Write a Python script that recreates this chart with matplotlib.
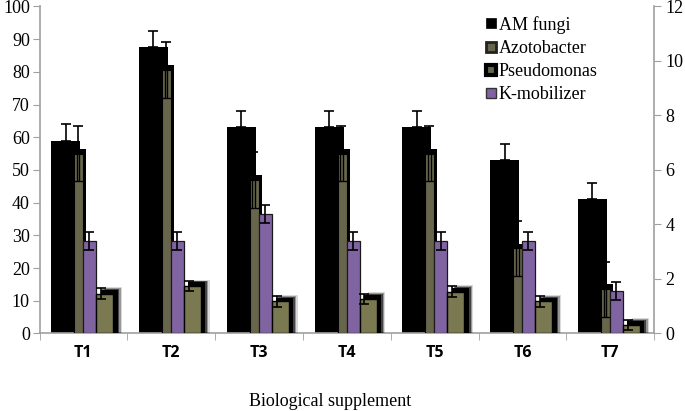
import numpy as np
import matplotlib
matplotlib.use('Agg')
import matplotlib.pyplot as plt
from matplotlib.lines import Line2D

# Data (left axis units)
groups = ['T1', 'T2', 'T3', 'T4', 'T5', 'T6', 'T7']
am_fungi = [59, 87.5, 63, 63, 63, 53, 41]
am_err = [5, 5, 5, 5, 5, 5, 5]
azotobacter = [55, 80.5, 47, 55, 55, 26, 13.5]
azo_err = [8.5, 8.5, 8.5, 8.5, 8.5, 8.5, 8.5]
k_mobilizer = [28.3, 28.3, 36.6, 28.3, 28.3, 28.3, 13]
kmob_err = [2.7, 2.7, 2.7, 2.7, 2.7, 2.7, 2.7]
pseudomonas = [12.2, 14.5, 9.8, 10.6, 12.8, 9.8, 2.6]
pseudo_err = [1.6, 1.6, 1.6, 1.6, 1.6, 1.6, 1.4]

black = '#000000'
olive = '#67664c'
olive2 = '#7b7951'
purple = '#8064a2'
grey = '#a0a0a0'

plt.rcParams['font.family'] = ['Liberation Serif', 'DejaVu Serif']

fig = plt.figure(figsize=(6.85, 4.11), dpi=100)
ax = fig.add_axes([0.0577, 0.1886, 0.8973, 0.7956])
x = np.arange(len(groups))

# AM fungi
ax.bar(x - 0.203, am_fungi, width=0.33, color=black, zorder=2)
ax.errorbar(x - 0.203, am_fungi, yerr=[np.zeros(7), am_err], fmt='none',
            ecolor=black, elinewidth=1.2, capsize=3.3, capthick=1.2, zorder=2.5)

# Azotobacter: black shadow + olive face
ax.bar(x - 0.054 + 0.034, np.array(azotobacter) + 1.5, width=0.103, color=black, zorder=3)
ax.bar(x - 0.0545, azotobacter, width=0.103, color=olive, edgecolor=black,
       linewidth=0.8, zorder=4)
ax.errorbar(x - 0.064, azotobacter, yerr=[np.zeros(7), azo_err], fmt='none',
            ecolor=black, elinewidth=1.2, capsize=3.3, capthick=1.2, zorder=3.5)
lo = np.array(azotobacter) - np.array(azo_err)
ax.vlines(x - 0.075, lo, azotobacter, colors=black, linewidth=1, zorder=5)
ax.vlines(x - 0.045, lo, azotobacter, colors=black, linewidth=1, zorder=5)
ax.hlines(lo, x - 0.106, x - 0.003, colors=black, linewidth=1, zorder=5)

# K-mobilizer
ax.bar(x + 0.071, k_mobilizer, width=0.148, color=purple, edgecolor='#1a1a1a',
       linewidth=0.9, zorder=6)
ax.errorbar(x + 0.068, k_mobilizer, yerr=kmob_err, fmt='none', ecolor=black,
            elinewidth=1.2, capsize=3.3, capthick=1.2, zorder=7)

# Pseudomonas: blurred black shadow + olive face
for dx, dy, a in [(0.1, 2.0, 0.15), (0.085, 1.7, 0.3), (0.07, 1.4, 0.55), (0.05, 1.1, 1.0)]:
    ax.bar(x + 0.242 + dx, np.array(pseudomonas) + dy, width=0.194, color=black,
           alpha=a, linewidth=0, zorder=5)
ax.bar(x + 0.242, pseudomonas, width=0.194, color=olive2, edgecolor=black,
       linewidth=1.0, zorder=6)
ax.errorbar(x + 0.2, pseudomonas, yerr=pseudo_err, fmt='none', ecolor=black,
            elinewidth=1.2, capsize=3.3, capthick=1.2, zorder=7)

ax.set_xlim(-0.5, 6.5)
ax.set_ylim(0, 100)
ax.set_yticks(range(0, 101, 10))
ax.set_xticks(x)
ax.set_xticklabels(groups, fontweight='bold', fontsize=11.5,
                   family=['Open Sans', 'DejaVu Sans'])
ax.set_xticks(np.arange(-0.5, 7, 1), minor=True)
ax.tick_params(axis='x', which='major', length=0, pad=8)
ax.tick_params(axis='x', which='minor', length=5, color=grey, direction='out')
ax.tick_params(axis='y', length=5, color=grey, labelsize=13, direction='out', pad=2)
for s in ['top', 'right']:
    ax.spines[s].set_visible(False)
for s in ['left', 'bottom']:
    ax.spines[s].set_color(grey)
    ax.spines[s].set_linewidth(1.2)

ax2 = ax.twinx()
ax2.set_ylim(0, 12)
ax2.set_yticks(range(0, 13, 2))
ax2.tick_params(axis='y', length=5, color=grey, labelsize=13, direction='out', pad=3)
for s in ['top', 'left', 'bottom']:
    ax2.spines[s].set_visible(False)
ax2.spines['right'].set_color(grey)
ax2.spines['right'].set_linewidth(1.2)

fig.text(0.482, 0.012, 'Biological supplement', ha='center', fontsize=13)

def square(face, edge, ew):
    return Line2D([], [], marker='s', linestyle='none', markersize=7.5,
                  markerfacecolor=face, markeredgecolor=edge, markeredgewidth=ew)

handles = [
    square(black, black, 0.5),
    square(olive, '#222222', 2.0),
    square(olive, black, 3.0),
    square(purple, '#333333', 1.0),
]
labels = ['AM fungi', 'Azotobacter', 'Pseudomonas', 'K-mobilizer']
ax2.legend(handles, labels, loc='upper left', bbox_to_anchor=(0.703, 1.01),
           frameon=False, fontsize=13, handlelength=0.7,
           handletextpad=0.1, labelspacing=0.34, borderaxespad=0.3)

fig.savefig('out.png', dpi=100)
